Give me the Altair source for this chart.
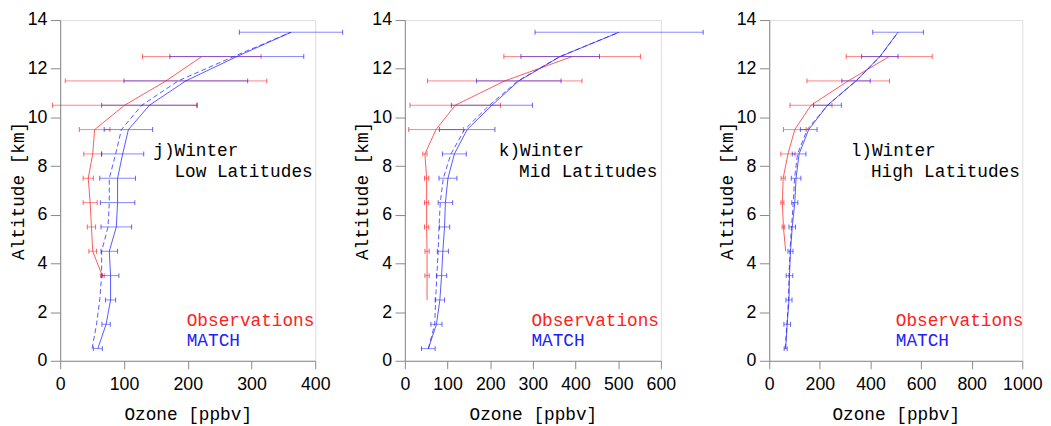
import altair as alt
import pandas as pd

# ---------------- data ----------------
ALT = [0.5, 1.5, 2.5, 3.5, 4.5, 5.5, 6.5, 7.5, 8.5, 9.5, 10.5, 11.5, 12.5, 13.5]

# j) Winter, Low Latitudes
OBS_J_ALT = [3.5, 4.5, 5.5, 6.5, 7.5, 8.5, 9.5, 10.5, 11.5, 12.5]
OBS_J = [66, 51, 49, 47, 44, 51, 54, 101, 166, 222]
OBS_J_ERR = [3, 6, 6.5, 11, 8, 14, 24, 113, 158, 93]
MATCH_J = [59, 72, 79, 79, 77, 88, 90, 90, 98, 107, 140, 197, 277, 362]
MATCH_J_ERR = [7, 6.5, 8, 13, 13, 24, 27, 28, 33, 38, 75, 97, 105, 81]
DASH_J = [50, 57, 62, 65, 65, 75, 77, 77, 87, 96, 128, 185, 272, 362]

# k) Winter, Mid Latitudes
OBS_K_ALT = [2.5, 3.5, 4.5, 5.5, 6.5, 7.5, 8.5, 9.5, 10.5, 11.5, 12.5]
OBS_K = [52, 52, 52, 51, 51, 51, 47, 73, 118, 234, 392]
OBS_K_ERR = [0, 5, 5, 5, 5, 5, 5, 64, 106, 181, 160]
MATCH_K = [55, 74, 82, 86, 89, 93, 95, 101, 116, 146, 204, 267, 364, 502]
MATCH_K_ERR = [16, 13, 11, 12, 13, 12, 17, 21, 28, 65, 95, 99, 92, 197]
DASH_K = [55, 70, 72, 75, 78, 80, 83, 90, 108, 140, 198, 265, 363, 502]

# l) Winter, High Latitudes
OBS_L_ALT = [4.5, 5.5, 6.5, 7.5, 8.5, 9.5, 10.5, 11.5, 12.5]
OBS_L = [65, 56, 52, 55, 74, 101, 165, 312, 474]
OBS_L_ERR = [0, 5, 6, 8, 28, 45, 83, 163, 170]
MATCH_L = [65, 71, 78, 80, 84, 91, 101, 106, 118, 156, 230, 343, 437, 509]
MATCH_L_ERR = [6, 13, 12, 13, 10, 13, 12, 19, 27, 33, 55, 56, 72, 100]
DASH_L = [63, 70, 76, 78, 82, 88, 95, 100, 112, 150, 231, 343, 438, 509]

PANEL_TAGS = ["j)Winter", "k)Winter", "l)Winter"]
PANEL_REGIONS = ["Low Latitudes", "Mid Latitudes", "High Latitudes"]
X_MAX = [400, 600, 1000]
X_STEP = [25, 25, 50]
WIDTHS = [259, 260, 257]
LEGEND_OBS = "Observations"
LEGEND_MATCH = "MATCH"
X_TITLE = "Ozone [ppbv]"
Y_TITLE = "Altitude [km]"

H = 346
RED = "#ff2020"
BLUE = "#2020ff"
MONO = "Liberation Mono"
SANS = "Liberation Sans"


def series_frame(alts, vals, errs):
    df = pd.DataFrame({"alt": alts, "val": vals, "err": errs})
    df["lo"] = df["val"] - df["err"]
    df["hi"] = df["val"] + df["err"]
    return df


def caps_frame(df):
    d = df[df["err"] > 0]
    return pd.concat([
        pd.DataFrame({"alt": d["alt"], "x": d["lo"]}),
        pd.DataFrame({"alt": d["alt"], "x": d["hi"]}),
    ])


def panel(i, obs_alt, obs, obs_err, match, match_err, dash, min_extent):
    W = WIDTHS[i]
    xmax = X_MAX[i]
    step = X_STEP[i]
    xs = alt.Scale(domain=[0, xmax], nice=False, zero=True)
    ys = alt.Scale(domain=[0, 14], nice=False)

    xaxis = alt.Axis(
        values=list(range(0, xmax + 1, step)),
        format="d",
        labelExpr=f"datum.value % {4 * step} == 0 ? datum.label : ''",
        tickSize={"condition": {"test": f"datum.value % {4 * step} == 0", "value": 8}, "value": 4},
        labelOverlap=False, labelFlush=False, grid=False,
        domainColor="#888", tickColor="#888",
        labelFont=SANS, labelFontSize=18, labelColor="black", labelPadding=7,
        title=X_TITLE, titleFont=MONO, titleFontSize=18, titleFontWeight="normal",
        titleColor="black", titleX=W / 2, titleY=55, titleAlign="center",
        titleBaseline="middle",
    )
    yaxis = alt.Axis(
        values=list(range(0, 15)),
        format="d",
        labelExpr="datum.value % 2 == 0 ? datum.label : ''",
        tickSize={"condition": {"test": "datum.value % 2 == 0", "value": 10}, "value": 4.5},
        labelOverlap=False, labelFlush=False, grid=False,
        domainColor="#888", tickColor="#888",
        labelFont=SANS, labelFontSize=18, labelColor="black", labelPadding=3.5,
        title=Y_TITLE, titleFont=MONO, titleFontSize=18, titleFontWeight="normal",
        titleColor="black", titleX=-42.5, titleY=H / 2, titleAngle=270,
        titleAlign="center", titleBaseline="middle", minExtent=min_extent,
    )

    dobs = series_frame(obs_alt, obs, obs_err)
    dmat = series_frame(ALT, match, match_err)
    ddash = pd.DataFrame({"alt": ALT, "val": dash})

    def bars(df, color):
        d = df[df["err"] > 0]
        return alt.Chart(d).mark_rule(color=color, strokeWidth=1, opacity=0.55).encode(
            x=alt.X("lo:Q", scale=xs, axis=xaxis), x2="hi:Q",
            y=alt.Y("alt:Q", scale=ys, axis=yaxis),
        )

    def caps(df, color):
        return alt.Chart(caps_frame(df)).mark_tick(
            color=color, orient="vertical", size=5, thickness=1, opacity=0.7
        ).encode(x=alt.X("x:Q", scale=xs), y=alt.Y("alt:Q", scale=ys))

    def line(df, color, dashed=False):
        kw = dict(color=color, strokeWidth=1, opacity=0.75)
        if dashed:
            kw["strokeDash"] = [5, 3]
        return alt.Chart(df).mark_line(**kw).encode(
            x=alt.X("val:Q", scale=xs), y=alt.Y("alt:Q", scale=ys), order="alt:Q"
        )

    def label(txt, px, py, color="black"):
        return alt.Chart(pd.DataFrame({"t": [txt]})).mark_text(
            align="left", baseline="alphabetic", font=MONO, fontSize=18, color=color
        ).encode(x=alt.value(px), y=alt.value(py), text="t:N")

    tag_x = [94.5, 95.4, 82.7][i]
    reg_x = [116.0, 116.0, 103.3][i]

    return alt.layer(
        bars(dobs, RED), caps(dobs, RED),
        bars(dmat, BLUE), caps(dmat, BLUE),
        line(dobs, RED), line(dmat, BLUE), line(ddash, BLUE, dashed=True),
        label(PANEL_TAGS[i], tag_x, 138),
        label(PANEL_REGIONS[i], reg_x, 159),
        label(LEGEND_OBS, 128.5, 310.7, RED),
        label(LEGEND_MATCH, 128.5, 330.7, BLUE),
    ).properties(width=W, height=H)


p1 = panel(0, OBS_J_ALT, OBS_J, OBS_J_ERR, MATCH_J, MATCH_J_ERR, DASH_J, 52.5)
p2 = panel(1, OBS_K_ALT, OBS_K, OBS_K_ERR, MATCH_K, MATCH_K_ERR, DASH_K, 52.5)
p3 = panel(2, OBS_L_ALT, OBS_L, OBS_L_ERR, MATCH_L, MATCH_L_ERR, DASH_L, 56.5)

chart = alt.hconcat(
    p1, p2, p3, spacing=9,
    padding={"left": 0, "top": -1, "right": 0, "bottom": 0},
).configure_view(stroke="#888", strokeWidth=1).configure(background="white")

chart.save("out.html", embed_options={"renderer": "svg", "actions": False})
